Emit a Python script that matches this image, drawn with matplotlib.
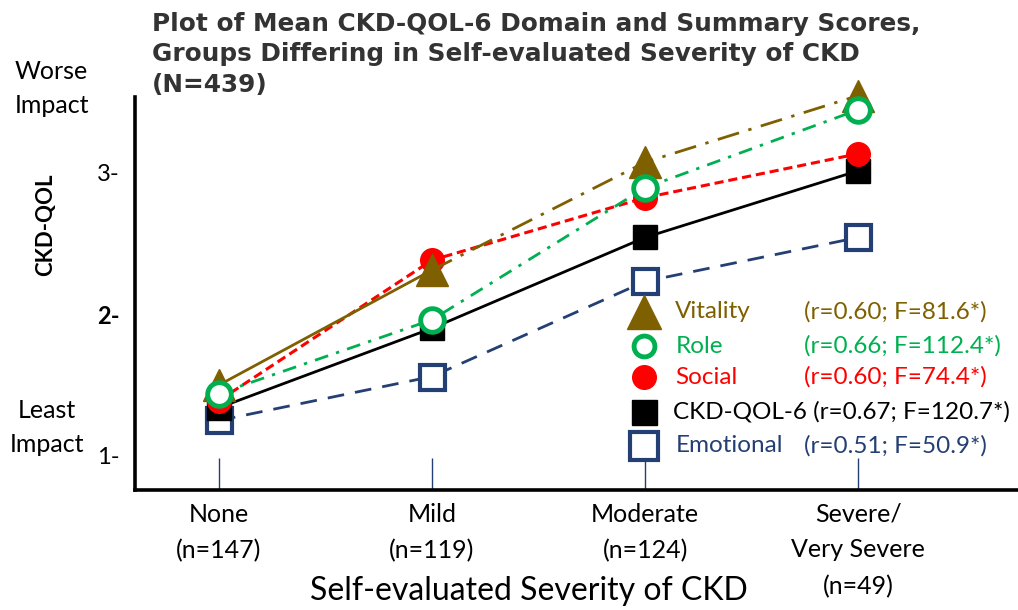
import matplotlib
matplotlib.use('Agg')
import matplotlib.pyplot as plt

# data
groups = ['None\n(n=147)', 'Mild\n(n=119)', 'Moderate\n(n=124)',
          'Severe/\nVery Severe\n(n=49)']
vitality = [1.50, 2.31, 3.07, 3.54]
role = [1.44, 1.96, 2.89, 3.44]
social = [1.39, 2.38, 2.82, 3.13]
ckd_qol6 = [1.34, 1.90, 2.54, 3.01]
emotional = [1.25, 1.56, 2.23, 2.54]

legend_names = ['Vitality', 'Role', 'Social', 'CKD-QOL-6', 'Emotional']
legend_stats = ['(r=0.60; F=81.6*)', '(r=0.66; F=112.4*)', '(r=0.60; F=74.4*)',
                '(r=0.67; F=120.7*)', '(r=0.51; F=50.9*)']
ytick_vals = [1, 2, 3]
ytick_labels = ['1-', '2-', '3-']

BROWN = '#7f6000'
GREEN = '#00b050'
RED = '#ff0000'
NAVY = '#243f73'
FONT = ['Lato', 'DejaVu Sans']

fig = plt.figure(figsize=(10.18, 6.10), dpi=100)
ax = fig.add_axes([0.1326, 0.1967, 0.8674, 0.6443])
x = list(range(len(groups)))

ax.plot(x, emotional, color=NAVY, lw=2, dashes=(6, 4), marker='s', ms=18,
        mfc='white', mec=NAVY, mew=3, clip_on=False, zorder=3)
ax.plot(x, ckd_qol6, color='black', lw=2, marker='s', ms=17,
        mfc='black', mec='black', clip_on=False, zorder=4)
ax.plot(x, social, color=RED, lw=2.2, dashes=(3, 1.6), marker='o', ms=17,
        mfc=RED, mec=RED, clip_on=False, zorder=5)
# vitality: first segment solid, the rest long dash-dot
ax.plot(x[:2], vitality[:2], color=BROWN, lw=2, zorder=6)
ax.plot(x[1:], vitality[1:], color=BROWN, lw=2, dashes=(8, 3.5, 1.2, 3.5),
        zorder=6)
ax.plot(x, vitality, ls='none', marker='^', ms=23, mfc=BROWN, mec=BROWN,
        clip_on=False, zorder=6)
ax.plot(x, role, color=GREEN, lw=2, dashes=(5, 3, 1.2, 3), marker='o', ms=17,
        mfc='white', mec=GREEN, mew=3.5, clip_on=False, zorder=7)

ax.set_xlim(-0.394, 3.75)
ax.set_ylim(0.76, 3.53)
for s in ('top', 'right'):
    ax.spines[s].set_visible(False)
for s in ('left', 'bottom'):
    ax.spines[s].set_linewidth(2.6)

ax.set_xticks(x)
ax.set_xticklabels(groups, fontsize=18, family=FONT, linespacing=1.68,
                   va='top')
ax.tick_params(axis='x', direction='in', length=23, width=1, color=NAVY,
               pad=9)
ax.set_yticks(ytick_vals)
ax.set_yticklabels(ytick_labels, fontsize=17, family=FONT)
ax.get_yticklabels()[1].set_fontweight('bold')
ax.tick_params(axis='y', length=0, pad=11)

ax.set_ylabel('CKD-QOL', fontsize=16, family=FONT, fontweight='bold')
ax.yaxis.set_label_coords(-0.089, 0.674)

fig.text(0.52, 0.006, 'Self-evaluated Severity of CKD', fontsize=23,
         family=FONT, ha='center', va='bottom')
fig.text(0.149, 0.981, 'Plot of Mean CKD-QOL-6 Domain and Summary Scores,\n'
         'Groups Differing in Self-evaluated Severity of CKD\n(N=439)',
         fontsize=17.8, fontweight='bold', color='#333333', va='top',
         ha='left', linespacing=1.36)
fig.text(0.014, 0.855, 'Worse\nImpact', fontsize=18, family=FONT, va='center',
         linespacing=1.55)
fig.text(0.046, 0.299, 'Least\nImpact', fontsize=18, family=FONT, va='center',
         ha='center', multialignment='center', linespacing=1.62)

# custom legend
rows_y = [0.453, 0.366, 0.2875, 0.198, 0.112]
styles = [dict(marker='^', ms=25, mfc=BROWN, mec=BROWN),
          dict(marker='o', ms=15, mfc='white', mec=GREEN, mew=3.5),
          dict(marker='o', ms=17, mfc=RED, mec=RED),
          dict(marker='s', ms=18, mfc='black', mec='black'),
          dict(marker='s', ms=20, mfc='white', mec=NAVY, mew=3)]
txt_colors = [BROWN, GREEN, RED, 'black', NAVY]
for yy, st, name, stat, c in zip(rows_y, styles, legend_names,
                                 legend_stats, txt_colors):
    ax.plot([0.5765], [yy], transform=ax.transAxes, clip_on=False, zorder=8,
            ls='none', **st)
    if name == 'CKD-QOL-6':
        ax.text(0.609, yy, name + ' ' + stat, transform=ax.transAxes,
                color=c, fontsize=17.5, family=FONT, va='center', ha='left')
        continue
    ax.text(0.612, yy, name, transform=ax.transAxes, color=c, fontsize=17.5,
            family=FONT, va='center', ha='left')
    ax.text(0.7577, yy, stat, transform=ax.transAxes, color=c, fontsize=17.5,
            family=FONT, va='center', ha='left')

fig.savefig('out.png', dpi=100)
